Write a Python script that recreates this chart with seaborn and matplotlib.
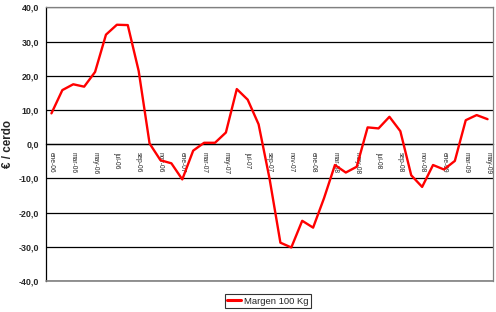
import matplotlib
matplotlib.use("Agg")
import matplotlib.pyplot as plt
import seaborn as sns
import pandas as pd
import numpy as np

months = ["ene-06","feb-06","mar-06","abr-06","may-06","jun-06","jul-06","ago-06","sep-06","oct-06","nov-06","dic-06",
          "ene-07","feb-07","mar-07","abr-07","may-07","jun-07","jul-07","ago-07","sep-07","oct-07","nov-07","dic-07",
          "ene-08","feb-08","mar-08","abr-08","may-08","jun-08","jul-08","ago-08","sep-08","oct-08","nov-08","dic-08",
          "ene-09","feb-09","mar-09","abr-09","may-09"]
margen = [9.0, 15.8, 17.5, 16.8, 21.1, 32.0, 34.9, 34.8, 21.4, 0.2, -4.7, -5.6,
          -10.3, -1.9, 0.4, 0.4, 3.4, 16.1, 13.0, 5.8, -10.0, -28.8, -30.2, -22.4,
          -24.4, -15.8, -6.1, -8.3, -6.6, 4.9, 4.6, 8.0, 3.8, -9.1, -12.5, -6.1,
          -7.4, -4.9, 7.0, 8.5, 7.3]
series_name = "Margen 100 Kg"
yticks = [-40, -30, -20, -10, 0, 10, 20, 30, 40]

df = pd.DataFrame({"idx": np.arange(len(months)), "mes": months, "valor": margen})

sns.set_style("white")
plt.rcParams["font.family"] = ["Liberation Sans", "DejaVu Sans"]

fig = plt.figure(figsize=(4.96, 3.12), dpi=100)
ax = fig.add_axes([46/496, 1-281/312, (493-46)/496, (281-7.3)/312])

sns.lineplot(data=df, x="idx", y="valor", color="#FF0000", linewidth=1.7,
             ax=ax, label=series_name, legend=False, zorder=5)

# spines first (set_position resets ticks)
ax.spines["bottom"].set_position(("data", 0))
ax.spines["bottom"].set_color("black")
ax.spines["bottom"].set_linewidth(0.9)
ax.spines["left"].set_color("black")
ax.spines["left"].set_linewidth(0.9)
for s in ["top", "right"]:
    ax.spines[s].set_color("#808080")
    ax.spines[s].set_linewidth(0.9)
    ax.spines[s].set_zorder(6)

ax.set_xlim(-0.5, len(months) - 0.5)
ax.set_ylim(-40, 40)
ax.set_yticks(yticks)
ax.set_yticklabels([f"{v:.1f}".replace(".", ",") for v in yticks],
                   fontsize=6.4, fontweight="bold")
ax.tick_params(axis="y", direction="out", length=3, width=0.8, color="black", pad=2)

major = list(range(0, len(months), 2))
ax.set_xticks(major)
ax.set_xticklabels([months[i] for i in major], rotation=-90, fontsize=4.8)
ax.set_xticks([i - 0.5 for i in major], minor=True)
ax.tick_params(axis="x", which="major", length=0, pad=5.5)
ax.tick_params(axis="x", which="minor", length=3, width=0.8, color="black", direction="out")

ax.yaxis.grid(True, color="black", linewidth=0.9)
ax.set_axisbelow(True)
ax.axhline(-40, color="#808080", linewidth=1.2, zorder=6, clip_on=False)

ax.set_xlabel("")
ax.set_ylabel("€ / cerdo", fontsize=8.4, fontweight="bold")
ax.yaxis.set_label_coords(-0.072, 0.5)

handles, labels = ax.get_legend_handles_labels()
leg = fig.legend(handles, labels, loc="center", bbox_to_anchor=(268/496, 1-301/312),
                 fontsize=6.8, frameon=True, fancybox=False, edgecolor="black",
                 handlelength=1.5, handletextpad=0.3, borderpad=0.25, borderaxespad=0)
leg.get_frame().set_linewidth(0.8)
for l in leg.get_lines():
    l.set_linewidth(2.2)

fig.savefig("out.png", dpi=100)
